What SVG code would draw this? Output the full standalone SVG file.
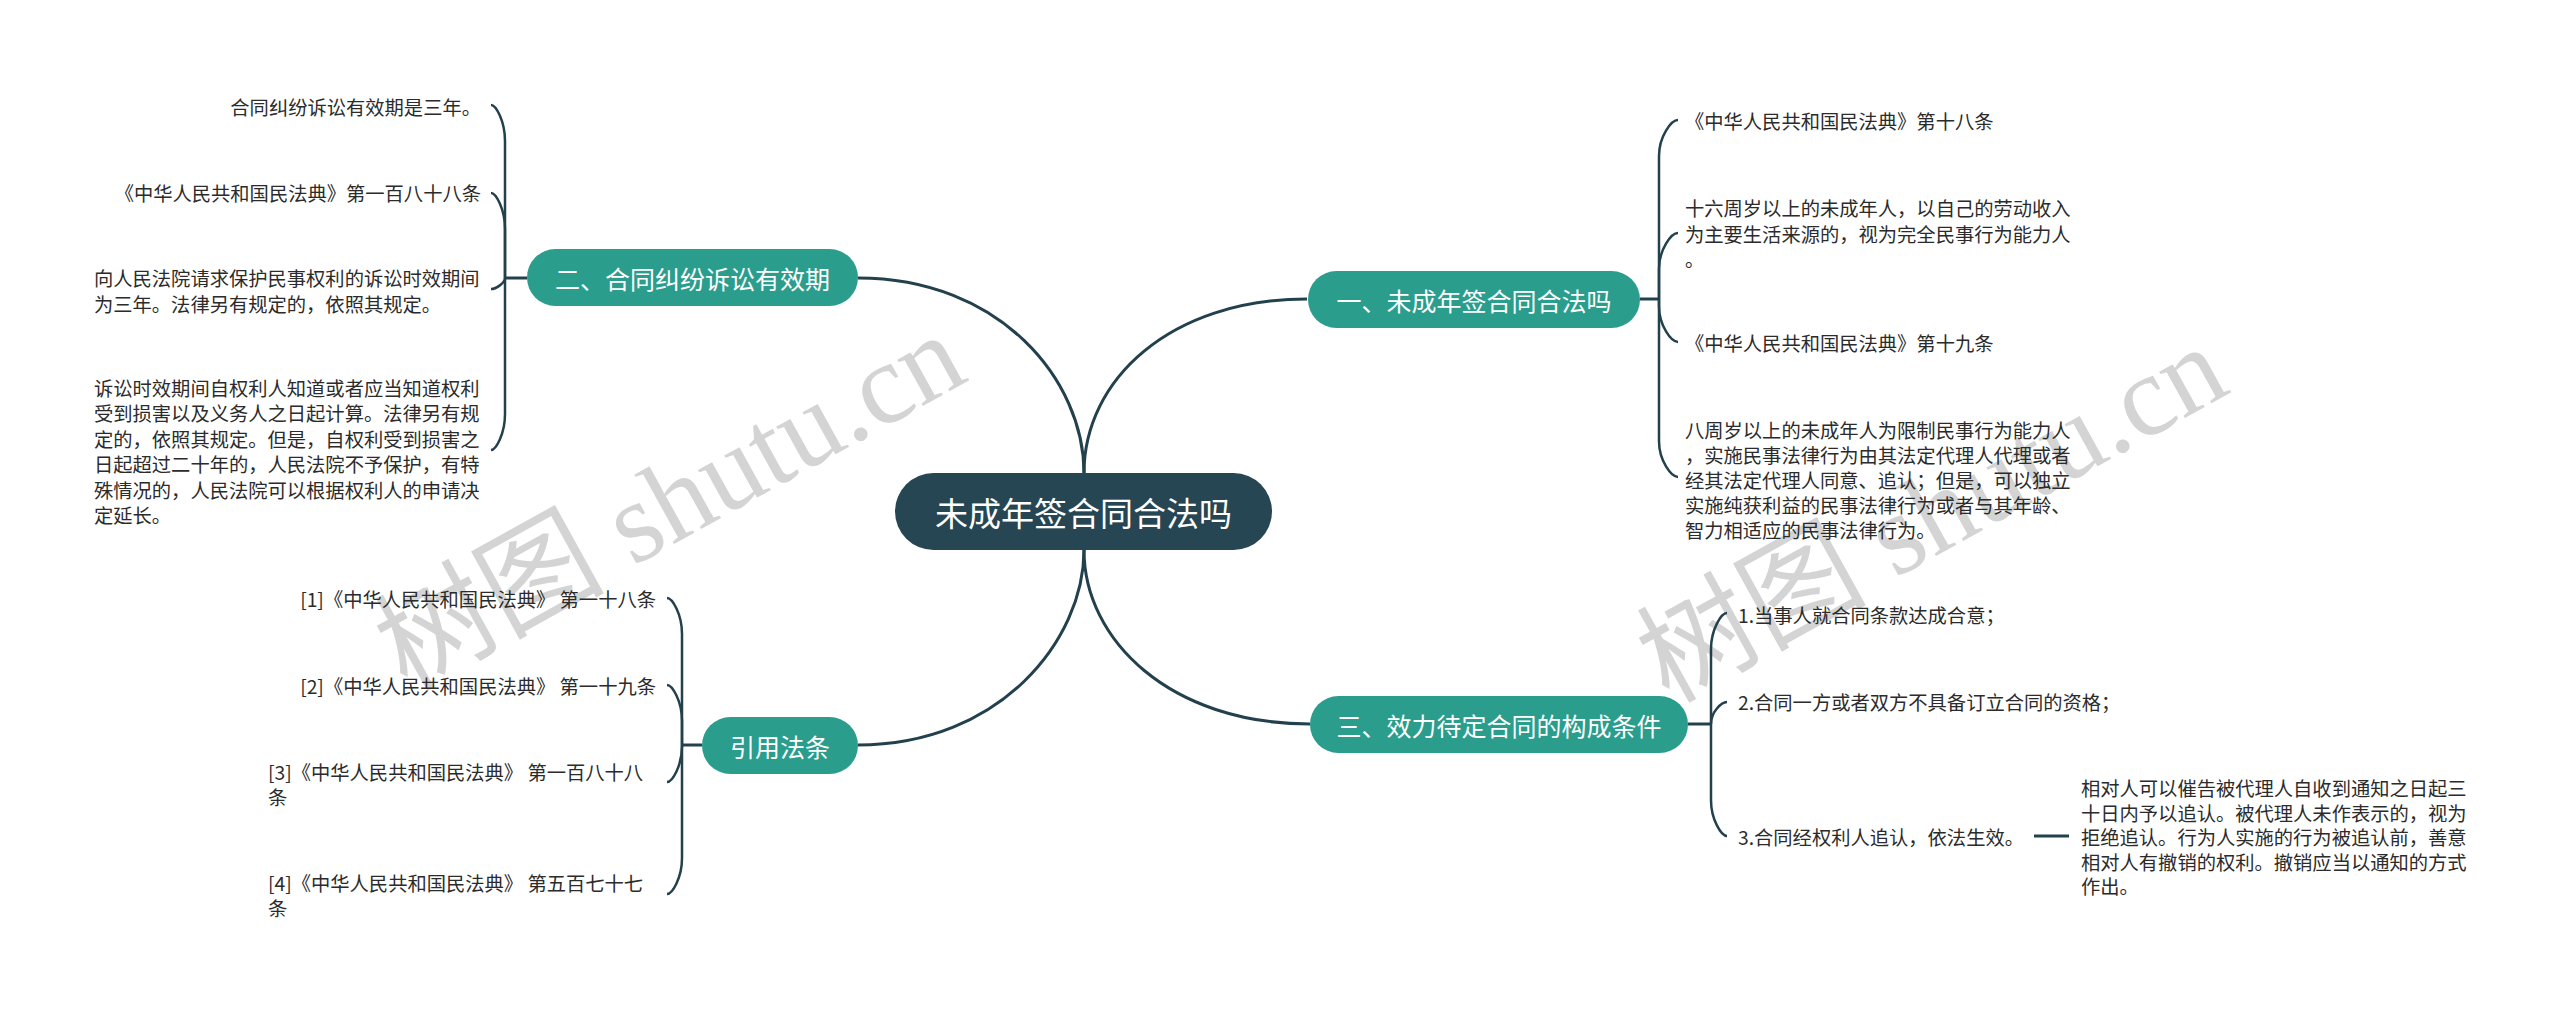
<svg xmlns="http://www.w3.org/2000/svg" width="2560" height="1011" viewBox="0 0 2560 1011">
<style>
.t{font-family:"Noto Sans CJK SC","Noto Sans",sans-serif;font-size:19.3px;fill:#2b2b2b;dominant-baseline:central}
.e{text-anchor:end}
.b{font-family:"Noto Sans CJK SC","Noto Sans",sans-serif;font-size:25px;fill:#ffffff;text-anchor:middle;dominant-baseline:central}
.r{font-size:33px}
.bf{fill:#2a9d8c}
.rf{fill:#264653}
.c{fill:none;stroke:#23414d;stroke-width:3}
.k{fill:none;stroke:#23414d;stroke-width:2.5}
.wm{font-family:"Liberation Serif","Noto Sans CJK SC",serif;font-size:115px;fill:#d4d4d4;text-anchor:middle;dominant-baseline:central}
</style>
<rect width="2560" height="1011" fill="#ffffff"/>
<g id="watermark">
<text class="wm" transform="translate(670,502) rotate(-29)">树图 shutu.cn</text>
<text class="wm" transform="translate(1932,514) rotate(-29)">树图 shutu.cn</text>
</g>
<g id="connectors">
<path class="c" d="M1084,473 C1084,380 1000,278 858,278"/>
<path class="c" d="M1084,473 C1084,380 1170,299 1307,299"/>
<path class="c" d="M1084,550 C1084,640 1000,745 858,745"/>
<path class="c" d="M1084,550 C1084,640 1170,724 1310,724"/>
<path class="c" d="M527,278 L505,278"/>
<path class="c" d="M1640,299 L1659,299"/>
<path class="c" d="M1688,724 L1711,724"/>
<path class="c" d="M702,745 L682,745"/>
<path class="k" d="M505,278 L505,141 C505,121.2 495.9,105 491,105"/>
<path class="k" d="M505,278 L505,229 C505,209.2 495.9,193 491,193"/>
<path class="k" d="M505,278 C505,283 495.9,289 491,289"/>
<path class="k" d="M505,278 L505,414 C505,433.8 495.9,450 491,450"/>
<path class="k" d="M1659,299 L1659,156 C1659,136.2 1671.4,120 1678,120"/>
<path class="k" d="M1659,299 L1659,269 C1659,249.2 1671.4,233 1678,233"/>
<path class="k" d="M1659,299 L1659,306 C1659,325.8 1671.4,342 1678,342"/>
<path class="k" d="M1659,299 L1659,441 C1659,460.8 1671.4,477 1678,477"/>
<path class="k" d="M1711,724 L1711,649 C1711,629.2 1721.4,613 1727,613"/>
<path class="k" d="M1711,724 C1711,711.9 1721.4,702 1727,702"/>
<path class="k" d="M1711,724 L1711,800 C1711,819.8 1721.4,836 1727,836"/>
<path class="k" d="M682,745 L682,634 C682,614.2 672.3,598 667,598"/>
<path class="k" d="M682,745 L682,721 C682,701.2 672.3,685 667,685"/>
<path class="k" d="M682,745 L682,746 C682,765.8 672.3,782 667,782"/>
<path class="k" d="M682,745 L682,858 C682,877.8 672.3,894 667,894"/>
<path class="c" d="M2034,836 L2069,836"/>
</g>
<g id="root">
<rect class="rf" x="895" y="473" width="377" height="77" rx="38.5"/>
<text class="b r" x="1083.5" y="511.5">未成年签合同合法吗</text>
</g>
<g id="branch-2">
<rect class="bf" x="527" y="249" width="331" height="57" rx="28.5"/>
<text class="b" x="692.5" y="277.5">二、合同纠纷诉讼有效期</text>
</g>
<g id="branch-1">
<rect class="bf" x="1308" y="271" width="332" height="57" rx="28.5"/>
<text class="b" x="1474" y="299.5">一、未成年签合同合法吗</text>
</g>
<g id="branch-3">
<rect class="bf" x="1310" y="696" width="378" height="57" rx="28.5"/>
<text class="b" x="1499" y="724.5">三、效力待定合同的构成条件</text>
</g>
<g id="branch-ref">
<rect class="bf" x="702" y="717" width="156" height="57" rx="28.5"/>
<text class="b" x="780" y="745.5">引用法条</text>
</g>
<g id="leaf-2-1"><text class="t e" x="481" y="107">合同纠纷诉讼有效期是三年。</text></g>
<g id="leaf-2-2"><text class="t e" x="481" y="193">《中华人民共和国民法典》第一百八十八条</text></g>
<g id="leaf-2-3"><text class="t">
<tspan x="94" y="278">向人民法院请求保护民事权利的诉讼时效期间</tspan>
<tspan x="94" y="303.5">为三年。法律另有规定的，依照其规定。</tspan>
</text></g>
<g id="leaf-2-4"><text class="t">
<tspan x="94" y="388">诉讼时效期间自权利人知道或者应当知道权利</tspan>
<tspan x="94" y="413.4">受到损害以及义务人之日起计算。法律另有规</tspan>
<tspan x="94" y="438.8">定的，依照其规定。但是，自权利受到损害之</tspan>
<tspan x="94" y="464.2">日起超过二十年的，人民法院不予保护，有特</tspan>
<tspan x="94" y="489.6">殊情况的，人民法院可以根据权利人的申请决</tspan>
<tspan x="94" y="515">定延长。</tspan>
</text></g>
<g id="leaf-1-1"><text class="t" x="1685" y="121">《中华人民共和国民法典》第十八条</text></g>
<g id="leaf-1-2"><text class="t">
<tspan x="1685" y="208">十六周岁以上的未成年人，以自己的劳动收入</tspan>
<tspan x="1685" y="233.5">为主要生活来源的，视为完全民事行为能力人</tspan>
<tspan x="1685" y="259">。</tspan>
</text></g>
<g id="leaf-1-3"><text class="t" x="1685" y="343">《中华人民共和国民法典》第十九条</text></g>
<g id="leaf-1-4"><text class="t">
<tspan x="1685" y="430">八周岁以上的未成年人为限制民事行为能力人</tspan>
<tspan x="1685" y="455">，实施民事法律行为由其法定代理人代理或者</tspan>
<tspan x="1685" y="480">经其法定代理人同意、追认；但是，可以独立</tspan>
<tspan x="1685" y="505">实施纯获利益的民事法律行为或者与其年龄、</tspan>
<tspan x="1685" y="530">智力相适应的民事法律行为。</tspan>
</text></g>
<g id="leaf-3-1"><text class="t" x="1738" y="615">1.当事人就合同条款达成合意；</text></g>
<g id="leaf-3-2"><text class="t" x="1738" y="702">2.合同一方或者双方不具备订立合同的资格；</text></g>
<g id="leaf-3-3"><text class="t" x="1738" y="837">3.合同经权利人追认，依法生效。</text></g>
<g id="leaf-3-3-1"><text class="t">
<tspan x="2081" y="788">相对人可以催告被代理人自收到通知之日起三</tspan>
<tspan x="2081" y="812.5">十日内予以追认。被代理人未作表示的，视为</tspan>
<tspan x="2081" y="837">拒绝追认。行为人实施的行为被追认前，善意</tspan>
<tspan x="2081" y="861.5">相对人有撤销的权利。撤销应当以通知的方式</tspan>
<tspan x="2081" y="886">作出。</tspan>
</text></g>
<g id="leaf-ref-1"><text class="t e" x="656" y="599">[1]《中华人民共和国民法典》 第一十八条</text></g>
<g id="leaf-ref-2"><text class="t e" x="656" y="686">[2]《中华人民共和国民法典》 第一十九条</text></g>
<g id="leaf-ref-3"><text class="t">
<tspan x="268" y="772">[3]《中华人民共和国民法典》 第一百八十八</tspan>
<tspan x="268" y="797">条</tspan>
</text></g>
<g id="leaf-ref-4"><text class="t">
<tspan x="268" y="883">[4]《中华人民共和国民法典》 第五百七十七</tspan>
<tspan x="268" y="908">条</tspan>
</text></g>
</svg>
